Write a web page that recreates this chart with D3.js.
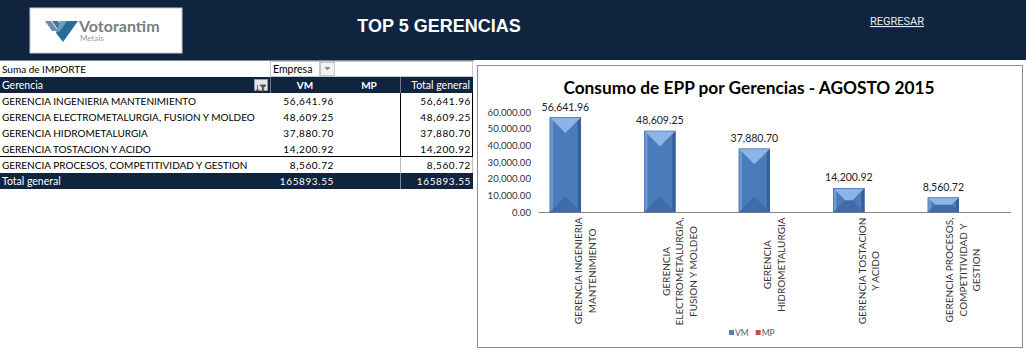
<!DOCTYPE html>
<html>
<head>
<meta charset="utf-8">
<script src="https://cdn.jsdelivr.net/npm/d3@7"></script>
<style>
  body { margin: 0; background: #fff; }
  svg text { font-family: Lato, "Open Sans", sans-serif; }
  .num { letter-spacing: 0.6px; }
</style>
</head>
<body>
<svg id="page"></svg>
<script>
// datos de la tabla dinamica / grafico
const gerencias = [
  "GERENCIA INGENIERIA MANTENIMIENTO",
  "GERENCIA ELECTROMETALURGIA, FUSION Y MOLDEO",
  "GERENCIA HIDROMETALURGIA",
  "GERENCIA TOSTACION Y ACIDO",
  "GERENCIA PROCESOS, COMPETITIVIDAD Y GESTION"
];
// etiquetas del eje x tal como salen partidas en el grafico
const gerenciaLines = [
  ["GERENCIA INGENIERIA", "MANTENIMIENTO"],
  ["GERENCIA", "ELECTROMETALURGIA,", "FUSION Y MOLDEO"],
  ["GERENCIA", "HIDROMETALURGIA"],
  ["GERENCIA TOSTACION", "Y ACIDO"],
  ["GERENCIA PROCESOS,", "COMPETITIVIDAD Y", "GESTION"]
];
const series = ["VM", "MP"];
const vm = [56641.96, 48609.25, 37880.70, 14200.92, 8560.72];
const mp = [null, null, null, null, null];
const totalGeneral = "165893.55";
const yTicks = [0, 10000, 20000, 30000, 40000, 50000, 60000];
const tableHeader = ["Gerencia", "VM", "MP", "Total general"];

const width = 1026, height = 352;
const navy = "#10233f";

const svg = d3.select("#page")
  .attr("width", width)
  .attr("height", height)
  .attr("viewBox", [0, 0, width, height]);

/** ---------- HEADER ---------- */
svg.append("rect").attr("x", 0).attr("y", 0).attr("width", width).attr("height", 60).attr("fill", navy);
svg.append("line").attr("x1", 0).attr("x2", 474).attr("y1", 60.5).attr("y2", 60.5).attr("stroke", "#7d8794");

// logo
const logo = svg.append("g");
logo.append("rect").attr("x", 30).attr("y", 8).attr("width", 152).attr("height", 45)
  .attr("fill", "#fff").attr("stroke", "#c9ccd1");
const iconColors = ["#6b8ea8", "#46739a"];
[[45, 21, 51, 21, 58, 31, 52, 31], [52, 21, 58, 21, 65, 31, 59, 31]].forEach((p, i) => {
  logo.append("polygon").attr("points", d3.range(0, p.length, 2).map(k => p[k] + "," + p[k + 1]).join(" "))
    .attr("fill", iconColors[i]);
});
logo.append("polygon").attr("points", "60,21 78,21 63,42 56,33").attr("fill", "#2b6a97");
logo.append("polygon").attr("points", "60,21 67,21 60,31 56,33").attr("fill", "#6a9cc0");
logo.append("text").attr("x", 79).attr("y", 32).text("Votorantim")
  .style("font-size", "16px").style("font-weight", "bold").attr("fill", "#7a7d80");
logo.append("text").attr("x", 80).attr("y", 41).text("Metais")
  .style("font-size", "8px").attr("fill", "#93a0ab");

svg.append("text").attr("x", 439).attr("y", 32).attr("text-anchor", "middle").text("TOP 5 GERENCIAS")
  .style("font-family", "'Liberation Sans', Arial, sans-serif").style("font-size", "18px")
  .style("font-weight", "bold").attr("fill", "#fff");
svg.append("text").attr("x", 870).attr("y", 25).text("REGRESAR")
  .style("font-family", "Roboto, sans-serif").style("font-size", "11px")
  .style("text-decoration", "underline").attr("fill", "#e8ecf2");

/** ---------- TABLA DINAMICA ---------- */
const cols = [0, 272, 338, 400, 473];
const rowH = 16, top0 = 61;
const rowY = (i) => top0 + i * rowH;
const tbl = svg.append("g").style("font-size", "10px");

// fila "Suma de IMPORTE" / Empresa
tbl.append("text").attr("x", 2).attr("y", rowY(0) + 12).text("Suma de IMPORTE").attr("fill", "#000");
tbl.append("rect").attr("x", 270.5).attr("y", rowY(0) + 0.5).attr("width", 202).attr("height", rowH - 1)
  .attr("fill", "none").attr("stroke", "#c8c8c8");
tbl.append("rect").attr("x", 270.5).attr("y", rowY(0) + 0.5).attr("width", 49).attr("height", rowH - 1)
  .attr("fill", "none").attr("stroke", "#c8c8c8");
tbl.append("text").attr("x", 273).attr("y", rowY(0) + 12).text("Empresa").style("font-size", "10.5px");
tbl.append("rect").attr("x", 320.5).attr("y", rowY(0) + 1.5).attr("width", 14).attr("height", rowH - 3)
  .attr("fill", "#f2f2f2").attr("stroke", "#c8c8c8");
tbl.append("polygon").attr("points", "324.5,67 330.5,67 327.5,70.5").attr("fill", "#8a8a8a");

// encabezado
tbl.append("rect").attr("x", 0).attr("y", rowY(1)).attr("width", 473).attr("height", rowH).attr("fill", navy);
tbl.append("text").attr("x", 2).attr("y", rowY(1) + 12).text(tableHeader[0]).attr("fill", "#fff").style("font-size", "10.5px");
tbl.append("rect").attr("x", 254.5).attr("y", rowY(1) + 2.5).attr("width", 13).attr("height", 11)
  .attr("fill", "#e6e6e6").attr("stroke", "#9a9a9a");
tbl.append("path").attr("d", "M257.5,85 v6 M256,89.5 l1.5,1.5 l1.5,-1.5 M260,85 h6 l-2.3,2.7 v3.5 h-1.4 v-3.5 z")
  .attr("stroke", "#555").attr("stroke-width", 0.9).attr("fill", "#555");
tbl.append("text").attr("x", (cols[1] + cols[2]) / 2).attr("y", rowY(1) + 12).attr("text-anchor", "middle")
  .text(tableHeader[1]).attr("fill", "#fff").style("font-weight", "bold");
tbl.append("text").attr("x", (cols[2] + cols[3]) / 2).attr("y", rowY(1) + 12).attr("text-anchor", "middle")
  .text(tableHeader[2]).attr("fill", "#fff").style("font-weight", "bold");
tbl.append("text").attr("x", cols[4] - 3).attr("y", rowY(1) + 12).attr("text-anchor", "end")
  .text(tableHeader[3]).attr("fill", "#fff").style("font-size", "10.5px");
[270.5, 400.5].forEach(x => tbl.append("line").attr("x1", x).attr("x2", x)
  .attr("y1", rowY(1)).attr("y2", rowY(2)).attr("stroke", "#6d7a8c"));

// filas de datos
const fmt = d3.format(",.2f");
gerencias.forEach((g, i) => {
  const y = rowY(i + 2) + 12;
  tbl.append("text").attr("x", 2).attr("y", y).text(g).attr("fill", "#000");
  tbl.append("text").attr("class", "num").attr("x", cols[2] - 4).attr("y", y).attr("text-anchor", "end").text(fmt(vm[i]));
  tbl.append("text").attr("class", "num").attr("x", cols[4] - 2).attr("y", y).attr("text-anchor", "end").text(fmt(vm[i]));
});
// bordes de la tabla
tbl.append("line").attr("x1", 400.5).attr("x2", 400.5).attr("y1", rowY(2)).attr("y2", rowY(6)).attr("stroke", "#000");
tbl.append("line").attr("x1", 472.5).attr("x2", 472.5).attr("y1", rowY(2)).attr("y2", rowY(6)).attr("stroke", "#000");
tbl.append("line").attr("x1", 0).attr("x2", 473).attr("y1", rowY(6) - 0.5).attr("y2", rowY(6) - 0.5).attr("stroke", "#000");
tbl.append("line").attr("x1", 400.5).attr("x2", 400.5).attr("y1", rowY(6)).attr("y2", rowY(7)).attr("stroke", "#bdbdbd");
tbl.append("line").attr("x1", 472.5).attr("x2", 472.5).attr("y1", rowY(6)).attr("y2", rowY(7)).attr("stroke", "#bdbdbd");

// total general
tbl.append("rect").attr("x", 0).attr("y", rowY(7)).attr("width", 473).attr("height", rowH).attr("fill", navy);
tbl.append("text").attr("x", 2).attr("y", rowY(7) + 12).text("Total general").attr("fill", "#fff").style("font-size", "10.5px");
tbl.append("text").attr("class", "num").attr("x", cols[2] - 4).attr("y", rowY(7) + 12).attr("text-anchor", "end").text(totalGeneral).attr("fill", "#fff");
tbl.append("text").attr("class", "num").attr("x", cols[4] - 2).attr("y", rowY(7) + 12).attr("text-anchor", "end").text(totalGeneral).attr("fill", "#fff");
tbl.append("line").attr("x1", 400.5).attr("x2", 400.5).attr("y1", rowY(7)).attr("y2", rowY(8)).attr("stroke", "#7d8794");

/** ---------- GRAFICO ---------- */
const chart = svg.append("g");
chart.append("rect").attr("x", 477.5).attr("y", 65.5).attr("width", 545).attr("height", 282)
  .attr("fill", "#fff").attr("stroke", "#8c8c8c");

chart.append("text").attr("x", 749).attr("y", 94).attr("text-anchor", "middle")
  .text("Consumo de EPP por Gerencias - AGOSTO 2015")
  .style("font-size", "17.3px").style("font-weight", "bold").attr("fill", "#000");

const x = d3.scaleBand().domain(gerencias).range([538, 1010.5]);
const xs = d3.scaleBand().domain(series).range([0, x.bandwidth()]).paddingInner(0.225).paddingOuter(0.3);
const y = d3.scaleLinear().domain([0, 60000]).range([212, 112]);

// eje y
chart.append("g")
  .attr("transform", "translate(538,0)")
  .call(d3.axisLeft(y).tickValues(yTicks).tickFormat(fmt).tickSize(0).tickPadding(7))
  .call(g => g.select(".domain").remove())
  .selectAll("text").style("font-family", "Lato, sans-serif").style("font-size", "9.6px").attr("fill", "#333");

// eje x (solo la linea)
chart.append("g")
  .attr("transform", `translate(0,${y(0)})`)
  .call(d3.axisBottom(x).tickSize(0).tickSizeOuter(0).tickFormat(""))
  .call(g => g.select(".domain").attr("stroke", "#868686"));

// barras con bisel
const bars = chart.append("g");
vm.forEach((v, i) => {
  const x0 = x(gerencias[i]) + xs("VM"), w = xs.bandwidth(), x1 = x0 + w;
  const y0 = y(v), y1 = y(0), h = y1 - y0, cx = x0 + w / 2;
  const b = Math.min(3, h / 4);
  const d = Math.min(w / 2, h / 2);
  const g = bars.append("g");
  const pts = (a) => a.map(p => p.join(",")).join(" ");
  g.append("rect").attr("x", x0).attr("y", y0).attr("width", w).attr("height", h).attr("fill", "#4a7cbc");
  g.append("polygon").attr("points", pts([[x0, y1], [x1, y1], [x1 - d, y1 - d], [x0 + d, y1 - d]])).attr("fill", "#3f6ca8");
  g.append("polygon").attr("points", pts([[x0, y0], [x0 + b, y0 + b], [x0 + b, y1 - b], [x0, y1]])).attr("fill", "#6d9ad4");
  g.append("polygon").attr("points", pts([[x1, y0], [x1 - b, y0 + b], [x1 - b, y1 - b], [x1, y1]])).attr("fill", "#34609a");
  g.append("polygon").attr("points", pts([[x0, y0], [x1, y0], [x1 - d, y0 + d], [x0 + d, y0 + d]])).attr("fill", "#8db4e6");
  g.append("rect").attr("x", x0).attr("y", y0).attr("width", w).attr("height", h)
    .attr("fill", "none").attr("stroke", "#3a6396").attr("stroke-width", 0.6);
  chart.append("text").attr("x", cx).attr("y", y0 - 7).attr("text-anchor", "middle").text(fmt(v))
    .style("font-size", "10.5px").attr("fill", "#222");
});

// etiquetas de categoria giradas
gerenciaLines.forEach((lines, i) => {
  const cx = x(gerencias[i]) + x.bandwidth() / 2;
  const lh = 13.5;
  const t = chart.append("text").attr("text-anchor", "middle").style("font-size", "10px").attr("fill", "#333");
  lines.forEach((l, k) => {
    t.append("tspan").attr("x", 0).attr("y", (k - (lines.length - 1) / 2) * lh + 3.5).text(l);
  });
  let maxLen = 0;
  t.selectAll("tspan").each(function () { maxLen = Math.max(maxLen, this.getComputedTextLength()); });
  t.attr("transform", `translate(${cx},${217.5 + maxLen / 2}) rotate(-90)`);
});

// leyenda
const colors = { VM: "#4f81bd", MP: "#c0504d" };
const leg = chart.append("g").attr("transform", "translate(729,333)");
let lx = 0;
series.forEach(s => {
  leg.append("rect").attr("x", lx).attr("y", -3).attr("width", 5).attr("height", 5).attr("fill", colors[s]);
  const t = leg.append("text").attr("x", lx + 6).attr("y", 2.5).text(s).style("font-size", "8.5px").attr("fill", "#595959");
  lx += 6 + t.node().getComputedTextLength() + 7;
});
</script>
</body>
</html>
